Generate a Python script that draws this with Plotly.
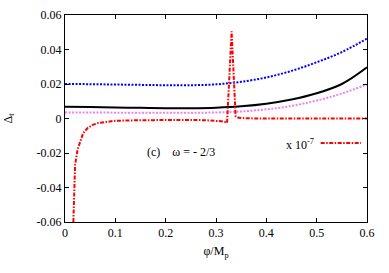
import plotly.graph_objects as go

x_smooth = [0.0, 0.05, 0.1, 0.15, 0.2, 0.25, 0.3, 0.35, 0.4, 0.45, 0.5, 0.55, 0.6]
blue_vals = [0.0200, 0.0199, 0.0197, 0.0195, 0.0193, 0.0193, 0.0198, 0.0213, 0.0238, 0.0276, 0.0326, 0.0385, 0.0463]
black_vals = [0.0068, 0.0066, 0.0064, 0.0062, 0.0060, 0.0060, 0.0063, 0.0071, 0.0086, 0.0110, 0.0146, 0.0200, 0.0297]
violet_vals = [0.0035, 0.0035, 0.0034, 0.0034, 0.0033, 0.0033, 0.0035, 0.0041, 0.0053, 0.0073, 0.0104, 0.0145, 0.0198]

x_red = [0.0166, 0.018, 0.02, 0.025, 0.03, 0.036, 0.045, 0.055, 0.066, 0.08, 0.1, 0.15,
         0.2, 0.25, 0.28, 0.3, 0.31, 0.318, 0.322, 0.331, 0.339, 0.345, 0.36, 0.4, 0.5, 0.6]
red_vals = [-0.06, -0.045, -0.027, -0.018, -0.013, -0.0085, -0.0055, -0.0037, -0.0026, -0.0019, -0.0013, -0.0010,
            -0.0008, -0.0008, -0.0010, -0.0013, -0.0016, -0.0020, -0.0025, 0.0505, 0.0012, 0.0004, 0.0001, 0.0, 0.0, 0.0]

x_ticks = [0, 0.1, 0.2, 0.3, 0.4, 0.5, 0.6]
x_tick_labels = ["0", "0.1", "0.2", "0.3", "0.4", "0.5", "0.6"]
y_ticks = [-0.06, -0.04, -0.02, 0, 0.02, 0.04, 0.06]
y_tick_labels = ["-0.06", "-0.04", "-0.02", "0", "0.02", "0.04", "0.06"]

legend_x = [0.508, 0.588]
legend_y = [-0.0142, -0.0142]

FONT = "Liberation Serif"
DOT = "2px,1.5px"
DASHDOT = "4px,1.5px,1.5px,1.5px"

fig = go.Figure()
fig.add_trace(go.Scatter(x=x_smooth, y=blue_vals, mode="lines", line=dict(color="#0000ff", width=2, dash=DOT, shape="spline"), showlegend=False))
fig.add_trace(go.Scatter(x=x_smooth, y=violet_vals, mode="lines", line=dict(color="#ee82ee", width=2, dash=DOT, shape="spline"), showlegend=False))
fig.add_trace(go.Scatter(x=x_smooth, y=black_vals, mode="lines", line=dict(color="#000000", width=2, shape="spline"), showlegend=False))
fig.add_trace(go.Scatter(x=x_red, y=red_vals, mode="lines", line=dict(color="#ff0000", width=2, dash=DASHDOT), showlegend=False))
fig.add_trace(go.Scatter(x=legend_x, y=legend_y, mode="lines", line=dict(color="#ff0000", width=2, dash=DASHDOT), showlegend=False))

axis_common = dict(showline=True, linecolor="black", linewidth=1, mirror="ticks", ticks="inside",
                   ticklen=4, tickcolor="black", showgrid=False, zeroline=False,
                   tickfont=dict(family=FONT, size=12, color="black"))

fig.update_xaxes(range=[0, 0.6], tickvals=x_ticks, ticktext=x_tick_labels,
                 title=dict(text="φ/M<sub>p</sub>", font=dict(family=FONT, size=12, color="black"), standoff=7),
                 **axis_common)
fig.update_yaxes(range=[-0.06, 0.06], tickvals=y_ticks, ticktext=y_tick_labels,
                 title=dict(text="Δ<sub>t</sub>", font=dict(family=FONT, size=12, color="black"), standoff=21),
                 **axis_common)

fig.add_annotation(x=0.158, y=-0.0194, xref="x", yref="y", text="(c)&nbsp;&nbsp;&nbsp;&nbsp;ω = - 2/3", showarrow=False,
                   xanchor="left", yanchor="middle", font=dict(family=FONT, size=12, color="black"))
fig.add_annotation(x=0.498, y=-0.0150, xref="x", yref="y", text="x 10<sup>-7</sup>", showarrow=False,
                   xanchor="right", yanchor="middle", font=dict(family=FONT, size=12, color="black"))

fig.update_layout(width=389, height=273, margin=dict(l=65, r=22, t=15, b=51, autoexpand=False),
                  plot_bgcolor="white", paper_bgcolor="white", showlegend=False)

fig.write_html("out.html", config={"displayModeBar": False},
               post_script="document.body.style.margin='0';document.body.style.overflow='hidden';")
